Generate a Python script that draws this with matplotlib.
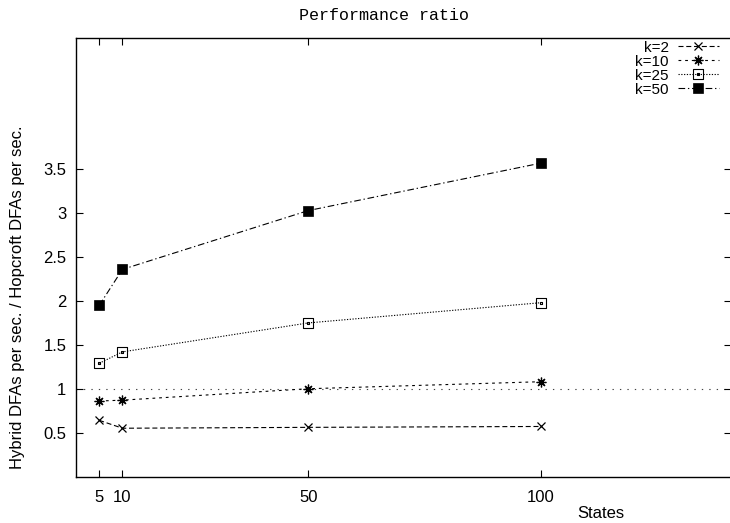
import matplotlib
matplotlib.use("Agg")
import matplotlib.pyplot as plt
import numpy as np
from matplotlib.path import Path

states = [5, 10, 50, 100]
k2 = [0.64, 0.55, 0.56, 0.57]
k10 = [0.86, 0.87, 1.00, 1.08]
k25 = [1.29, 1.42, 1.75, 1.98]
k50 = [1.95, 2.36, 3.03, 3.57]
labels = ["k=2", "k=10", "k=25", "k=50"]
xticks = [5, 10, 50, 100]
yticks = [0.5, 1, 1.5, 2, 2.5, 3, 3.5]
ytick_labels = ["0.5", "1", "1.5", "2", "2.5", "3", "3.5"]

plt.rcParams['font.family'] = ['Liberation Sans', 'DejaVu Sans']

W, H = 730, 523
fig = plt.figure(figsize=(W / 100, H / 100), dpi=100)
L, R, T, B = 76, 731, 37.7, 476.5
ax = fig.add_axes([L / W, (H - B) / H, (R - L) / W, (B - T) / H])

# square with a center dot
sq = [(-1, -1), (1, -1), (1, 1), (-1, 1), (-1, -1)]
dot = [(-0.12, -0.12), (0.12, -0.12), (0.12, 0.12), (-0.12, 0.12), (-0.12, -0.12)]
codes = [Path.MOVETO, Path.LINETO, Path.LINETO, Path.LINETO, Path.CLOSEPOLY]
sq_dot = Path(sq + dot, codes + codes)

col = 'black'
lw = 0.8
ax.axhline(1.0, color='#444444', lw=0.8, linestyle=(0, (1.2, 5.5)), zorder=1)

ax.plot(states, k2, color=col, lw=lw, linestyle=(0, (4.5, 2.5)), marker='x',
        markersize=6, markeredgewidth=0.9, label=labels[0])
ax.plot(states, k10, color=col, lw=lw, linestyle=(0, (2.5, 3.5)), marker=(8, 2, 0),
        markersize=7, markeredgewidth=0.9, label=labels[1])
ax.plot(states, k25, color=col, lw=lw, linestyle=(0, (1.1, 1.4)), marker=sq_dot,
        markersize=6.5, markeredgewidth=0.8, markerfacecolor='none', label=labels[2])
ax.plot(states, k50, color=col, lw=lw, linestyle=(0, (6, 2.5, 1.2, 2.5)), marker='s',
        markersize=6.5, markeredgewidth=0.5, markerfacecolor='black', label=labels[3])

ax.set_xlim(0, 141)
ax.set_ylim(0, 5)
ax.set_xticks(xticks)
ax.set_xticklabels([str(v) for v in xticks])
ax.set_yticks(yticks)
ax.set_yticklabels(ytick_labels)
ax.tick_params(direction='in', length=5, width=0.8, top=True, right=True,
               labelsize=12, colors='black')
ax.tick_params(axis='y', pad=7)
ax.tick_params(axis='x', pad=10)
for s in ax.spines.values():
    s.set_linewidth(1.0)
    s.set_color('black')

fig.text(384 / W, 1 - 15 / H, "Performance ratio", family='Liberation Mono',
         fontsize=12, ha='center', va='center')
fig.text(18 / W, 1 - 297 / H, "Hybrid DFAs per sec. / Hopcroft DFAs per sec.",
         fontsize=12, rotation=90, ha='center', va='center')
fig.text(601 / W, 1 - 513 / H, "States", fontsize=12, ha='center', va='center')

leg = ax.legend(loc='upper right', frameon=False, markerfirst=False, fontsize=11,
                handlelength=2.7, handletextpad=0.6, labelspacing=0.0,
                borderaxespad=0.0, borderpad=0.2,
                bbox_to_anchor=(1 - 9 / (R - L), 1.0))

fig.savefig("out.png", dpi=100)
